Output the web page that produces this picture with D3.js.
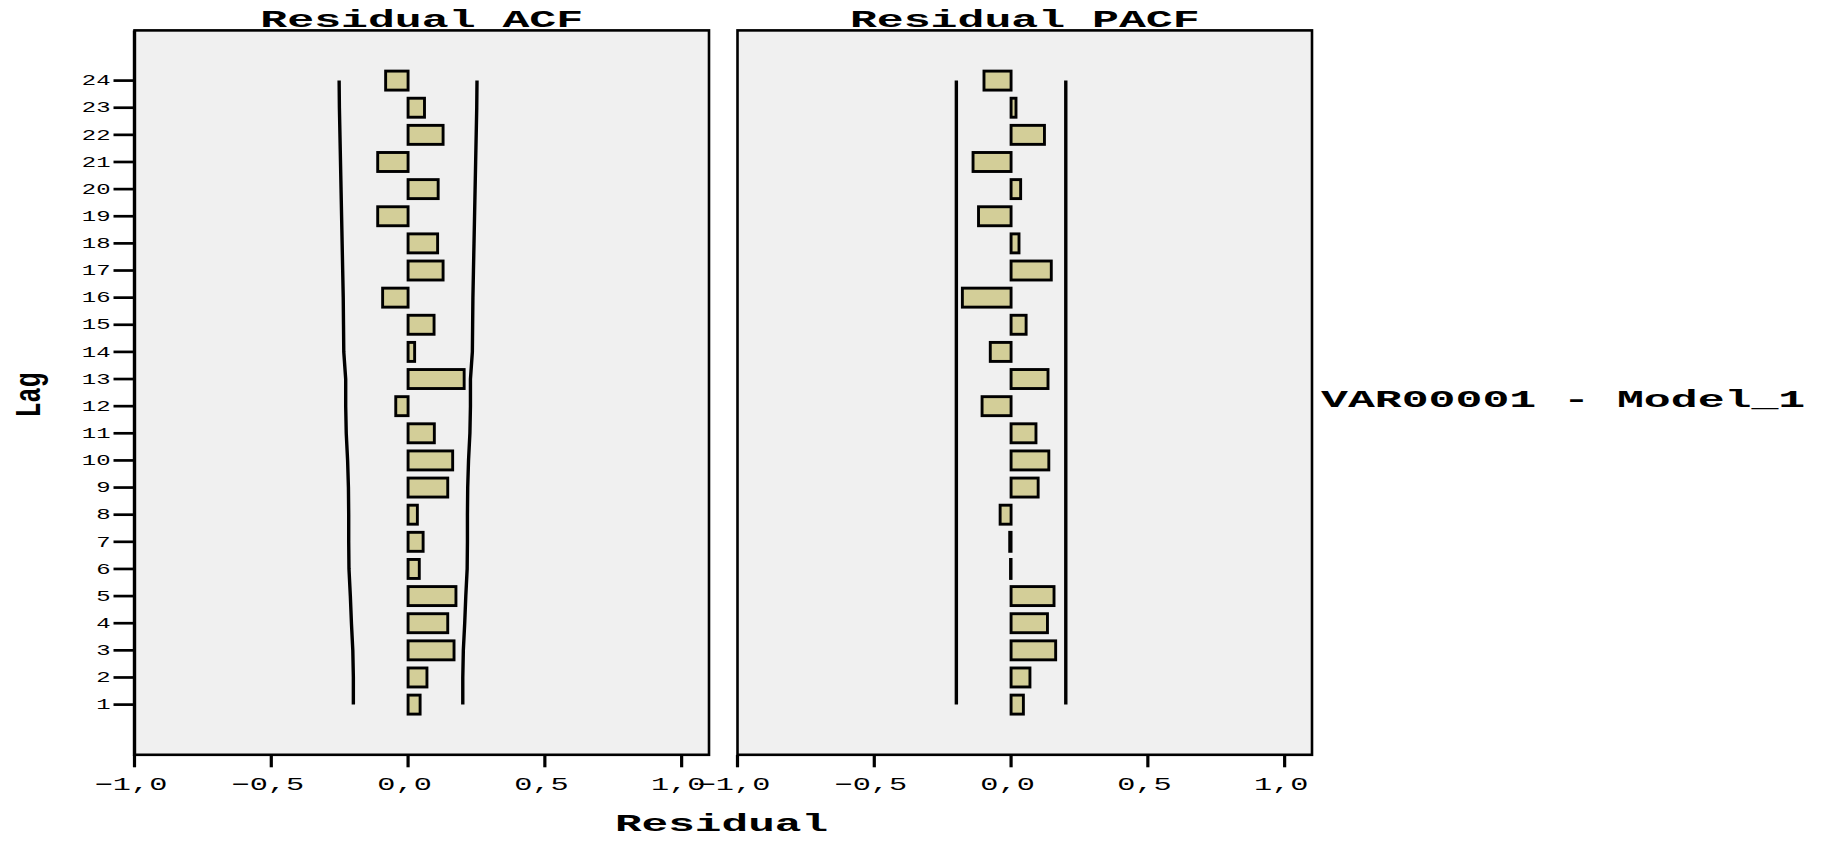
<!DOCTYPE html>
<html>
<head>
<meta charset="utf-8">
<script src="https://cdn.jsdelivr.net/npm/d3@7"></script>
<style>
  html, body { margin: 0; padding: 0; background: #ffffff; }
  svg { display: block; }
  text { font-family: "Courier New", "Liberation Mono", monospace; fill: #000; }
</style>
</head>
<body>
<svg id="chart" width="1832" height="843"></svg>
<script>
// Residual autocorrelations for VAR00001 - Model_1
const lags = [1, 2, 3, 4, 5, 6, 7, 8, 9, 10, 11, 12, 13, 14, 15, 16, 17, 18, 19, 20, 21, 22, 23, 24];
const acfValues = [0.044, 0.069, 0.168, 0.145, 0.175, 0.041, 0.055, 0.034, 0.145, 0.163, 0.096, -0.045,
                   0.205, 0.024, 0.095, -0.093, 0.128, 0.108, -0.111, 0.110, -0.111, 0.128, 0.060, -0.082];
const acfLimits = [0.200, 0.200, 0.202, 0.207, 0.211, 0.216, 0.217, 0.217, 0.218, 0.221, 0.226, 0.228,
                   0.228, 0.235, 0.236, 0.237, 0.239, 0.241, 0.243, 0.245, 0.247, 0.249, 0.251, 0.252];
const pacfValues = [0.045, 0.069, 0.163, 0.133, 0.157, -0.002, -0.005, -0.040, 0.099, 0.138, 0.091, -0.106,
                    0.135, -0.076, 0.055, -0.178, 0.147, 0.029, -0.119, 0.035, -0.139, 0.122, 0.018, -0.099];
const pacfLimits = [0.200, 0.200, 0.200, 0.200, 0.200, 0.200, 0.200, 0.200, 0.200, 0.200, 0.200, 0.200,
                    0.200, 0.200, 0.200, 0.200, 0.200, 0.200, 0.200, 0.200, 0.200, 0.200, 0.200, 0.200];
const xTicks = [-1.0, -0.5, 0.0, 0.5, 1.0];
const panelTitles = ["Residual ACF", "Residual PACF"];
const xAxisTitle = "Residual";
const yAxisTitle = "Lag";
const seriesLabel = "VAR00001 - Model_1";

const svg = d3.select("#chart");

const plotTop = 30.4, plotBottom = 754.8;
const panels = [
  { left: 134.5, right: 709, values: acfValues, limits: acfLimits, title: panelTitles[0] },
  { left: 737.5, right: 1312, values: pacfValues, limits: pacfLimits, title: panelTitles[1] }
];

const y = d3.scalePoint().domain(lags).range([plotBottom, plotTop]).padding(1.85);
const barH = y.step() * 0.7;
const fmt = v => (v < 0 ? "\u2212" : "") + Math.abs(v).toFixed(1).replace(".", ",");

// Stretched text helper: draws text with horizontal scaling
function stretchedText(g, str, x, yy, size, sx, anchor, weight) {
  return g.append("text")
    .attr("transform", `translate(${x},${yy}) scale(${sx},1)`)
    .attr("text-anchor", anchor)
    .attr("font-size", size)
    .attr("font-weight", weight || "normal")
    .text(str);
}

panels.forEach((p, pi) => {
  const x = d3.scaleLinear().domain([-1, 1.1]).range([p.left, p.right]);
  const g = svg.append("g");

  // plot background
  g.append("rect")
    .attr("x", p.left).attr("y", plotTop)
    .attr("width", p.right - p.left).attr("height", plotBottom - plotTop)
    .attr("fill", "#f0f0f0");

  // confidence limits
  const line = d3.line().x(d => x(d[1])).y(d => y(d[0]));
  [1, -1].forEach(sgn => {
    g.append("path")
      .datum(lags.map((l, i) => [l, sgn * p.limits[i]]))
      .attr("d", line)
      .attr("fill", "none")
      .attr("stroke", "#000")
      .attr("stroke-width", 3.4);
  });

  // bars
  g.selectAll("rect.bar")
    .data(lags.map((l, i) => ({ lag: l, v: p.values[i] })))
    .join("rect")
    .attr("class", "bar")
    .attr("x", d => x(Math.min(0, d.v)))
    .attr("width", d => Math.abs(x(d.v) - x(0)))
    .attr("y", d => y(d.lag) - barH / 2)
    .attr("height", barH)
    .attr("fill", "#d3ce98")
    .attr("stroke", "#000")
    .attr("stroke-width", 2.9);

  // frame
  g.append("rect")
    .attr("x", p.left).attr("y", plotTop)
    .attr("width", p.right - p.left).attr("height", plotBottom - plotTop)
    .attr("fill", "none")
    .attr("stroke", "#000")
    .attr("stroke-width", 2.6);

  // x axis ticks and labels
  const xa = g.append("g");
  xa.selectAll("line")
    .data(xTicks)
    .join("line")
    .attr("x1", d => x(d)).attr("x2", d => x(d))
    .attr("y1", plotBottom).attr("y2", plotBottom + 12.5)
    .attr("stroke", "#000")
    .attr("stroke-width", 3.2);
  xTicks.forEach(t => {
    stretchedText(xa, fmt(t), x(t) - 3.5, 790, 18, 1.68, "middle");
  });

  // panel title
  stretchedText(g, p.title, (p.left + p.right) / 2, 26.8, 23, 1.95, "middle", "bold");

  // lag axis on the first panel only
  if (pi === 0) {
    const ya = g.append("g");
    ya.append("line")
      .attr("x1", p.left).attr("x2", p.left)
      .attr("y1", plotTop).attr("y2", plotBottom + 1)
      .attr("stroke", "#000").attr("stroke-width", 3.4);
    ya.selectAll("line.tick")
      .data(lags)
      .join("line")
      .attr("class", "tick")
      .attr("x1", p.left - 21).attr("x2", p.left)
      .attr("y1", d => y(d)).attr("y2", d => y(d))
      .attr("stroke", "#000").attr("stroke-width", 2.7);
    lags.forEach(l => {
      stretchedText(ya, String(l), p.left - 24, y(l) + 4.7, 14.5, 1.65, "end")
        .attr("fill", "#222");
    });
  }
});

// axis titles
stretchedText(svg, xAxisTitle, 721.5, 830.5, 24, 1.85, "middle", "bold");

svg.append("text")
  .attr("transform", `translate(40,395) scale(1.45,1) rotate(-90)`)
  .attr("text-anchor", "middle")
  .attr("font-size", 25)
  .attr("font-weight", "bold")
  .text(yAxisTitle);

// series label
stretchedText(svg, seriesLabel, 1321, 406.5, 23, 1.95, "start", "bold");
</script>
</body>
</html>
